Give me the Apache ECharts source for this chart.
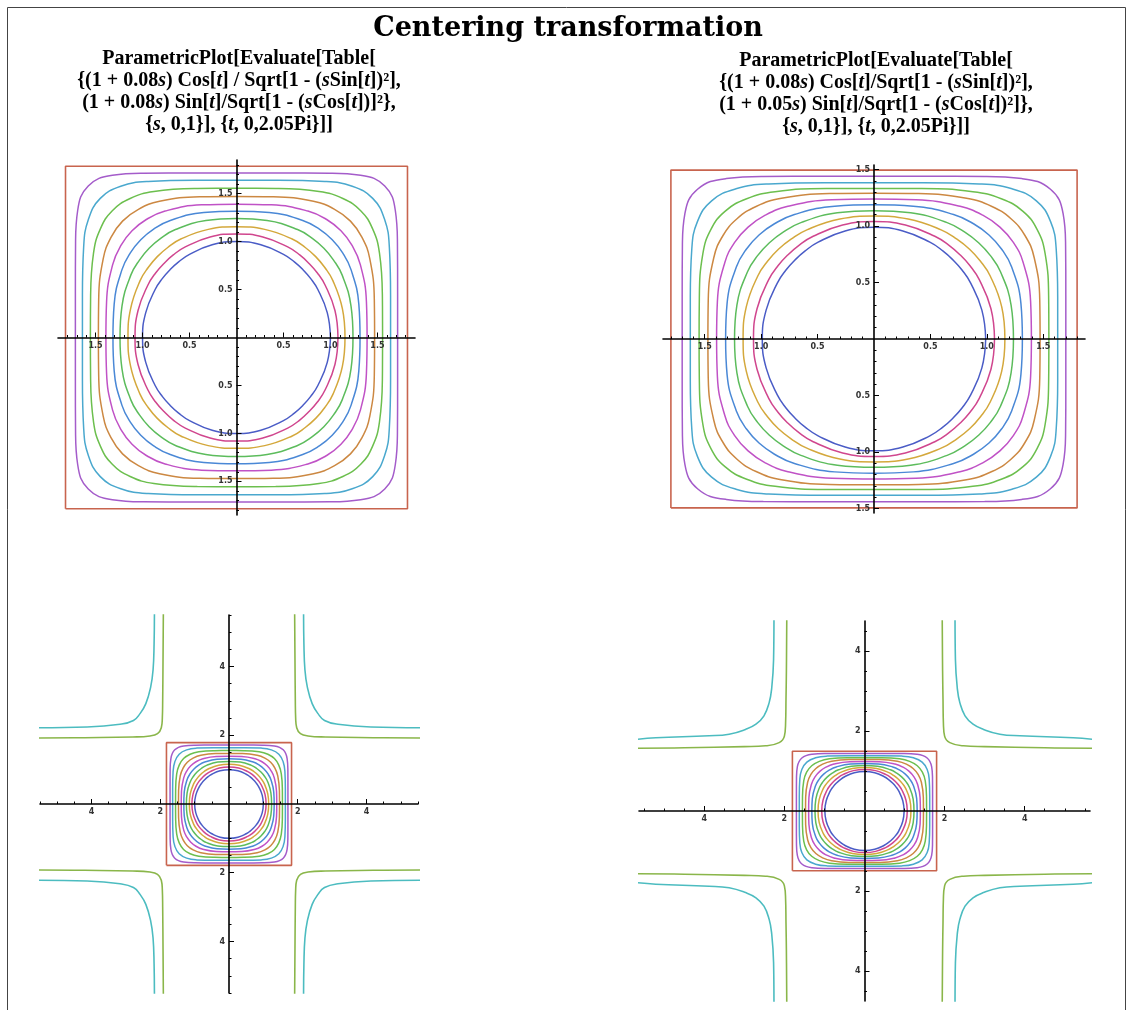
<!DOCTYPE html>
<html>
<head>
<meta charset="UTF-8">
<script src="https://cdn.jsdelivr.net/npm/echarts@6/dist/echarts.min.js"></script>
<title>Centering transformation</title>
<style>
html, body { margin: 0; padding: 0; background: #fff; }
#chart { width: 1127px; height: 1010px; }
</style>
</head>
<body>
<div id="chart"></div>
<script>
// curve colours, inner to outer
var CURVE_COLORS = ['#4a5cc6', '#d0468e', '#d4a83c', '#5cbc5c', '#4a88d6',
                    '#c052c6', '#cc8842', '#6cbf4e', '#4aa8ce', '#a45cca'];
var BOX_COLOR = '#c8644e';
var HYP_GREEN = '#8ab64a';
var HYP_CYAN = '#4cbcc0';

// first quadrant of every closed curve (from the x axis round to the y axis)
// left family
var TL_X = [
  [1.000, 0.966, 0.866, 0.788, 0.707, 0.616, 0.500, 0.259, 0],
  [1.080, 1.048, 0.944, 0.861, 0.772, 0.673, 0.545, 0.281, 0],
  [1.155, 1.127, 1.026, 0.938, 0.843, 0.732, 0.593, 0.301, 0],
  [1.240, 1.219, 1.125, 1.033, 0.930, 0.807, 0.650, 0.326, 0],
  [1.315, 1.302, 1.220, 1.130, 1.019, 0.882, 0.705, 0.348, 0],
  [1.390, 1.383, 1.318, 1.230, 1.112, 0.960, 0.760, 0.371, 0],
  [1.470, 1.467, 1.419, 1.336, 1.213, 1.044, 0.819, 0.392, 0],
  [1.555, 1.553, 1.522, 1.449, 1.322, 1.132, 0.879, 0.417, 0],
  [1.640, 1.640, 1.627, 1.576, 1.450, 1.232, 0.940, 0.440, 0],
  [1.715, 1.715, 1.713, 1.691, 1.578, 1.321, 0.990, 0.460, 0]
];
var TL_Y = [
  [0, 0.259, 0.500, 0.616, 0.707, 0.788, 0.866, 0.966, 1.000],
  [0, 0.281, 0.545, 0.673, 0.772, 0.861, 0.944, 1.048, 1.080],
  [0, 0.301, 0.593, 0.732, 0.843, 0.938, 1.026, 1.127, 1.155],
  [0, 0.326, 0.650, 0.807, 0.930, 1.033, 1.125, 1.219, 1.240],
  [0, 0.348, 0.705, 0.882, 1.019, 1.130, 1.220, 1.302, 1.315],
  [0, 0.371, 0.760, 0.960, 1.112, 1.230, 1.318, 1.383, 1.390],
  [0, 0.392, 0.819, 1.044, 1.213, 1.336, 1.419, 1.467, 1.470],
  [0, 0.417, 0.879, 1.132, 1.322, 1.449, 1.522, 1.553, 1.555],
  [0, 0.440, 0.940, 1.232, 1.450, 1.576, 1.627, 1.640, 1.640],
  [0, 0.460, 0.990, 1.321, 1.578, 1.691, 1.713, 1.715, 1.715]
];
// right family (flattened vertically)
var TR_X = [
  [0.990, 0.956, 0.857, 0.780, 0.700, 0.610, 0.495, 0.256, 0],
  [1.068, 1.036, 0.933, 0.851, 0.764, 0.665, 0.539, 0.278, 0],
  [1.160, 1.132, 1.030, 0.942, 0.847, 0.735, 0.595, 0.303, 0],
  [1.236, 1.215, 1.121, 1.030, 0.927, 0.805, 0.648, 0.325, 0],
  [1.315, 1.302, 1.220, 1.130, 1.019, 0.882, 0.705, 0.348, 0],
  [1.395, 1.388, 1.322, 1.235, 1.116, 0.964, 0.763, 0.372, 0],
  [1.472, 1.469, 1.420, 1.338, 1.214, 1.045, 0.820, 0.393, 0],
  [1.550, 1.548, 1.517, 1.445, 1.318, 1.128, 0.876, 0.415, 0],
  [1.628, 1.628, 1.615, 1.565, 1.439, 1.223, 0.933, 0.436, 0],
  [1.700, 1.700, 1.698, 1.676, 1.564, 1.309, 0.981, 0.456, 0]
];
var TR_Y = [
  [0, 0.256, 0.495, 0.610, 0.700, 0.780, 0.857, 0.956, 0.990],
  [0, 0.270, 0.525, 0.648, 0.744, 0.829, 0.909, 1.009, 1.040],
  [0, 0.284, 0.558, 0.690, 0.794, 0.883, 0.966, 1.062, 1.088],
  [0, 0.299, 0.595, 0.740, 0.852, 0.946, 1.030, 1.117, 1.136],
  [0, 0.315, 0.637, 0.797, 0.921, 1.020, 1.102, 1.176, 1.188],
  [0, 0.331, 0.677, 0.855, 0.990, 1.096, 1.174, 1.232, 1.238],
  [0, 0.344, 0.719, 0.916, 1.064, 1.173, 1.245, 1.287, 1.290],
  [0, 0.357, 0.753, 0.970, 1.132, 1.241, 1.304, 1.331, 1.332],
  [0, 0.371, 0.792, 1.039, 1.223, 1.329, 1.372, 1.383, 1.383],
  [0, 0.386, 0.831, 1.109, 1.325, 1.420, 1.439, 1.440, 1.440]
];
// outer square (half width, half height)
var BOX_LEFT = [1.82, 1.785];
var BOX_RIGHT = [1.80, 1.495];

// open branches in the first quadrant of the zoomed-out plots
var BL_GREEN = [[1.91, 5.6], [1.92, 4.2], [1.93, 3.0], [1.94, 2.5], [1.97, 2.22], [2.08, 2.05],
                [2.3, 1.98], [2.8, 1.95], [4.2, 1.93], [5.6, 1.92]];
var BL_CYAN = [[2.17, 5.6], [2.18, 4.66], [2.21, 3.9], [2.28, 3.4], [2.42, 2.92], [2.59, 2.63],
               [2.78, 2.43], [3.17, 2.32], [4.13, 2.24], [5.6, 2.22]];
var BR_GREEN = [[1.94, 4.9], [1.95, 3.5], [1.96, 2.8], [1.97, 2.2], [2.0, 1.87], [2.13, 1.71],
                [2.47, 1.63], [3.0, 1.61], [4.5, 1.58], [5.7, 1.57]];
var BR_CYAN = [[2.26, 4.9], [2.27, 3.79], [2.32, 3.04], [2.38, 2.71], [2.51, 2.38], [2.71, 2.17],
               [2.97, 2.04], [3.38, 1.92], [3.88, 1.88], [5.21, 1.83], [5.7, 1.79]];

// tick labels
var MAJOR_TOP = [-1.5, -1.0, -0.5, 0.5, 1.0, 1.5];
var MAJOR_BOTTOM = [-4, -2, 2, 4];

function minorTicks(n, step, every) {
  var out = [];
  for (var k = -n; k <= n; k++) {
    if (k % every === 0) continue;
    out.push(Math.round(k * step * 100) / 100);
  }
  return out;
}

var plots = [
  { grid: {left: 58, top: 160, width: 357, height: 355}, xr: [-1.9, 1.9], yr: [-1.85, 1.85],
    xs: TL_X, ys: TL_Y, box: BOX_LEFT, hyp: null,
    major: MAJOR_TOP, xMinor: minorTicks(18, 0.1, 5), yMinor: minorTicks(18, 0.1, 5),
    fmt: function (v) { return Math.abs(v).toFixed(1); } },
  { grid: {left: 663, top: 165, width: 422, height: 348}, xr: [-1.87, 1.87], yr: [-1.54, 1.54],
    xs: TR_X, ys: TR_Y, box: BOX_RIGHT, hyp: null,
    major: MAJOR_TOP, xMinor: minorTicks(18, 0.1, 5), yMinor: minorTicks(14, 0.1, 5),
    fmt: function (v) { return Math.abs(v).toFixed(1); } },
  { grid: {left: 40, top: 615, width: 378, height: 378}, xr: [-5.5, 5.5], yr: [-5.5, 5.5],
    xs: TL_X, ys: TL_Y, box: BOX_LEFT, hyp: [BL_GREEN, BL_CYAN],
    major: MAJOR_BOTTOM, xMinor: minorTicks(11, 0.5, 4), yMinor: minorTicks(11, 0.5, 4),
    fmt: function (v) { return String(Math.abs(v)); } },
  { grid: {left: 639, top: 621, width: 451, height: 380}, xr: [-5.63, 5.63], yr: [-4.75, 4.75],
    xs: TR_X, ys: TR_Y, box: BOX_RIGHT, hyp: [BR_GREEN, BR_CYAN],
    major: MAJOR_BOTTOM, xMinor: minorTicks(11, 0.5, 4), yMinor: minorTicks(9, 0.5, 4),
    fmt: function (v) { return String(Math.abs(v)); } }
];

// mirror a first-quadrant run into a closed curve
function loop(xs, ys) {
  var pts = [], j, n = xs.length;
  for (j = 0; j < n; j++) pts.push([xs[j], ys[j]]);
  for (j = n - 2; j >= 0; j--) pts.push([-xs[j], ys[j]]);
  for (j = 1; j < n; j++) pts.push([-xs[j], -ys[j]]);
  for (j = n - 2; j >= 0; j--) pts.push([xs[j], -ys[j]]);
  return pts;
}

function mirror(pts, sx, sy) {
  return pts.map(function (p) { return [p[0] * sx, p[1] * sy]; });
}

// axes sit on the zero lines: ranges are symmetric, so shift them by half the grid
function makeAxes(dim, p, grid, range, major, minor, fmt) {
  var base = {
    type: 'value', gridIndex: p, min: range[0], max: range[1],
    position: dim === 'x' ? 'bottom' : 'left',
    offset: dim === 'x' ? -grid.height / 2 : -grid.width / 2,
    splitLine: {show: false}, z: 5
  };
  var a = Object.assign({}, base, {
    axisLine: {show: true, onZero: false, lineStyle: {color: '#000', width: 1.6}},
    axisTick: {show: true, inside: true, length: 5, customValues: major, lineStyle: {color: '#000', width: 1}},
    axisLabel: {show: true, customValues: major, formatter: fmt, fontSize: 8, fontWeight: 'bold',
                fontFamily: 'DejaVu Sans', color: '#333', margin: 4}
  });
  var b = Object.assign({}, base, {
    axisLine: {show: false, onZero: false},
    axisTick: {show: true, inside: true, length: 2.5, customValues: minor, lineStyle: {color: '#000', width: 1}},
    axisLabel: {show: false}
  });
  return [a, b];
}

function line(p, data, color, w) {
  return {
    type: 'line', xAxisIndex: 2 * p, yAxisIndex: 2 * p, data: data, smooth: 0.45,
    symbol: 'none', silent: true, clip: true, z: 2,
    lineStyle: {color: color, width: w}
  };
}

var grids = [], xAxes = [], yAxes = [], series = [];
plots.forEach(function (pl, p) {
  grids.push(pl.grid);
  xAxes = xAxes.concat(makeAxes('x', p, pl.grid, pl.xr, pl.major, pl.xMinor, pl.fmt));
  yAxes = yAxes.concat(makeAxes('y', p, pl.grid, pl.yr, pl.major, pl.yMinor, pl.fmt));
  for (var k = 0; k < pl.xs.length; k++) {
    series.push(line(p, loop(pl.xs[k], pl.ys[k]), CURVE_COLORS[k], 1.5));
  }
  var bx = pl.box[0], by = pl.box[1];
  var boxSeries = line(p, [[-bx, -by], [bx, -by], [bx, by], [-bx, by], [-bx, -by]], BOX_COLOR, 1.6);
  boxSeries.smooth = false;
  series.push(boxSeries);
  if (pl.hyp) {
    [[1, 1], [-1, 1], [-1, -1], [1, -1]].forEach(function (s) {
      series.push(line(p, mirror(pl.hyp[0], s[0], s[1]), HYP_GREEN, 1.6));
      series.push(line(p, mirror(pl.hyp[1], s[0], s[1]), HYP_CYAN, 1.6));
    });
  }
});

var RICH = {i: {fontSize: 20, fontWeight: 'bold', fontStyle: 'italic', fontFamily: 'Liberation Serif', fill: '#000'}};
function textLine(x, y, str) {
  return {
    type: 'text', x: x, y: y, silent: true,
    style: {text: str, fontSize: 20, fontWeight: 'bold', fontFamily: 'Liberation Serif', fill: '#000',
            align: 'center', verticalAlign: 'middle', textAlign: 'center', textVerticalAlign: 'middle', rich: RICH}
  };
}

var LEFT_LINES = [
  'ParametricPlot[Evaluate[Table[',
  '{(1 + 0.08{i|s}) Cos[{i|t}] / Sqrt[1 - ({i|s}Sin[{i|t}])²],',
  '(1 + 0.08{i|s}) Sin[{i|t}]/Sqrt[1 - ({i|s}Cos[{i|t}])]²},',
  '{{i|s}, 0,1}], {{i|t}, 0,2.05Pi}]]'
];
var RIGHT_LINES = [
  'ParametricPlot[Evaluate[Table[',
  '{(1 + 0.08{i|s}) Cos[{i|t}]/Sqrt[1 - ({i|s}Sin[{i|t}])²],',
  '(1 + 0.05{i|s}) Sin[{i|t}]/Sqrt[1 - ({i|s}Cos[{i|t}])²]},',
  '{{i|s}, 0,1}], {{i|t}, 0,2.05Pi}]]'
];

var graphics = [
  {type: 'rect', silent: true, shape: {x: 7.5, y: 7.5, width: 1118, height: 1030},
   style: {fill: 'none', stroke: '#444', lineWidth: 1}},
  {type: 'text', x: 568, y: 29, silent: true,
   style: {text: 'Centering transformation', fontSize: 27, fontWeight: 'bold', fontFamily: 'DejaVu Serif',
           fill: '#000', align: 'center', verticalAlign: 'middle', textAlign: 'center', textVerticalAlign: 'middle'}}
];
LEFT_LINES.forEach(function (s, i) { graphics.push(textLine(239, 59 + 22 * i, s)); });
RIGHT_LINES.forEach(function (s, i) { graphics.push(textLine(876, 61 + 22 * i, s)); });

var chart = echarts.init(document.getElementById('chart'));
chart.setOption({
  animation: false,
  backgroundColor: '#fff',
  grid: grids,
  xAxis: xAxes,
  yAxis: yAxes,
  series: series,
  graphic: graphics
});
</script>
</body>
</html>
